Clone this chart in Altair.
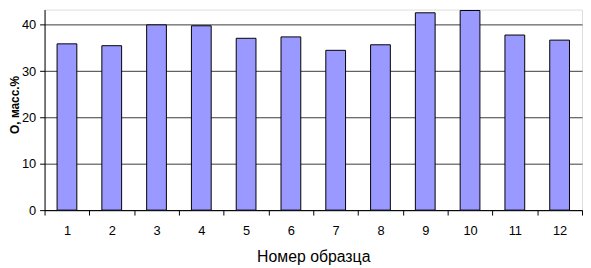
import altair as alt
import pandas as pd

samples = ["1", "2", "3", "4", "5", "6", "7", "8", "9", "10", "11", "12"]
oxygen = [35.9, 35.5, 40.0, 39.8, 37.1, 37.4, 34.5, 35.7, 42.6, 43.1, 37.8, 36.7]
y_ticks = [0, 10, 20, 30, 40]

df = pd.DataFrame({"sample": samples, "O": oxygen})

FONT = "Liberation Sans"

chart = (
    alt.Chart(df)
    .mark_bar(size=20, color="#9999FF", stroke="#000000", strokeWidth=1)
    .encode(
        x=alt.X(
            "sample:N",
            sort=samples,
            title="Номер образца",
            scale=alt.Scale(paddingInner=0, paddingOuter=0),
            axis=alt.Axis(
                labelAngle=0,
                labelFont=FONT,
                labelFontSize=13,
                labelColor="#000000",
                labelPadding=10,
                tickBand="extent",
                tickSize=5,
                tickColor="#000000",
                domainColor="#000000",
                titleFont=FONT,
                titleFontSize=16,
                titleFontWeight="normal",
                titleColor="#000000",
                titlePadding=11,
                grid=False,
            ),
        ),
        y=alt.Y(
            "O:Q",
            title="O, масс.%",
            scale=alt.Scale(domain=[0, 43.3], nice=False, zero=True),
            axis=alt.Axis(
                values=y_ticks,
                labelFont=FONT,
                labelFontSize=13,
                labelColor="#000000",
                labelPadding=4,
                tickSize=5,
                tickColor="#000000",
                domainColor="#000000",
                grid=True,
                gridColor="#3a3a3a",
                gridWidth=1,
                titleFont=FONT,
                titleFontSize=12,
                titleFontWeight="bold",
                titleColor="#000000",
                titleAngle=-90,
                titleX=-30,
                titleY=96,
                titleAlign="center",
                titleBaseline="middle",
            ),
        ),
    )
    .properties(
        width=544,
        height=203,
        autosize=alt.AutoSizeParams(type="none"),
        padding={"left": 37, "top": 0, "right": 1, "bottom": 58},
    )
    .configure_view(fill="#C0C0C0", stroke="#808080", strokeWidth=1)
    .configure(background="#FFFFFF")
)

chart.save("out.html", embed_options={"renderer": "svg", "actions": False})
